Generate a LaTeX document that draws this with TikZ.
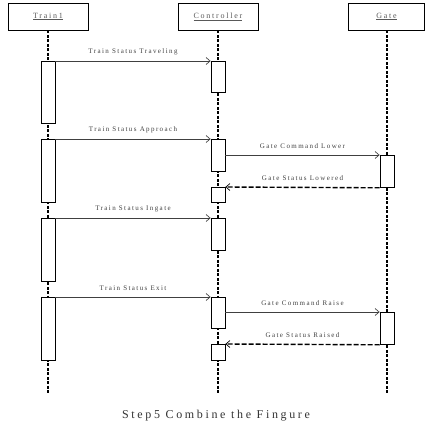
\documentclass[tikz,border=0pt]{standalone}
\usepackage{fontspec}
\setmainfont{Liberation Serif}
\newfontfamily\spaced[LetterSpace=20]{Liberation Serif}
\newfontfamily\capspaced[LetterSpace=22]{Liberation Serif}
\usepackage{tikz}
\usetikzlibrary{arrows.meta}
\tikzstyle{head} = [draw,line width=0.8pt,minimum height=27pt,inner sep=0pt,font=\capspaced\fontsize{8}{9}\selectfont,text=black!65]
\tikzstyle{life} = [line width=1.3pt,dash pattern=on 3pt off 1.5pt]
\tikzstyle{act} = [draw,fill=white,line width=0.8pt,minimum width=14pt,inner sep=0pt,anchor=north]
\tikzstyle{msg} = [line width=0.7pt,draw=black!75,->,>={Straight Barb[length=4pt,width=7pt]}]
\tikzstyle{ret} = [line width=1.4pt,dash pattern=on 5pt off 2pt,->,>={Straight Barb[length=4pt,width=7pt,line width=0.7pt]}]
\tikzstyle{lbl} = [above=2.5pt,midway,font=\spaced\fontsize{7}{8}\selectfont,text=black!75]

\begin{document}
\begin{tikzpicture}[x=1pt,y=-1pt]
\useasboundingbox (0,0) rectangle (426,425);
\node[head,minimum width=80pt] (train) at (48,16.5) {\underline{Train1}};
\node[head,minimum width=80pt] (ctrl) at (218,16.5) {\underline{Controller}};
\node[head,minimum width=76pt] (gate) at (386.5,16.5) {\underline{Gate}};
\coordinate (trainEnd) at (48,393);
\coordinate (ctrlEnd) at (218,393);
\coordinate (gateEnd) at (387,393);
\draw[life] (train.south) -- (trainEnd);
\draw[life] (ctrl.south) -- (ctrlEnd);
\draw[life] (gate.south -| gateEnd) -- (gateEnd);
\node[act,minimum height=62pt] (t1) at (48,61) {};
\node[act,minimum height=63pt] (t2) at (48,139) {};
\node[act,minimum height=63pt] (t3) at (48,218) {};
\node[act,minimum height=63pt] (t4) at (48,297) {};
\node[act,minimum height=31pt] (c1) at (218,61) {};
\node[act,minimum height=32pt] (c2) at (218,139) {};
\node[act,minimum height=15pt] (c3) at (218,187) {};
\node[act,minimum height=32pt] (c4) at (218,218) {};
\node[act,minimum height=31pt] (c5) at (218,297) {};
\node[act,minimum height=16pt] (c6) at (218,344) {};
\node[act,minimum height=32pt] (g1) at (387,155) {};
\node[act,minimum height=32pt] (g2) at (387,312) {};
\draw[msg] (t1.north east) -- (c1.north west) node[lbl] (m1) {Train Status Traveling};
\draw[msg] (t2.north east) -- (c2.north west) node[lbl] (m2) {Train Status Approach};
\draw[msg] (c2.east |- g1.north) -- (g1.north west) node[lbl] (m3) {Gate Command Lower};
\draw[ret] (g1.south west) -- (c3.north east) node[lbl] (m4) {Gate Status Lowered};
\draw[msg] (t3.north east) -- (c4.north west) node[lbl] (m5) {Train Status Ingate};
\draw[msg] (t4.north east) -- (c5.north west) node[lbl] (m6) {Train Status Exit};
\draw[msg] (c5.east |- g2.north) -- (g2.north west) node[lbl] (m7) {Gate Command Raise};
\draw[ret] (g2.south west) -- (c6.north east) node[lbl] (m8) {Gate Status Raised};
\node[font=\capspaced\fontsize{12}{14}\selectfont,text=black!80] (caption) at (216,416) {Step5 Combine the Fingure};
\end{tikzpicture}
\end{document}
